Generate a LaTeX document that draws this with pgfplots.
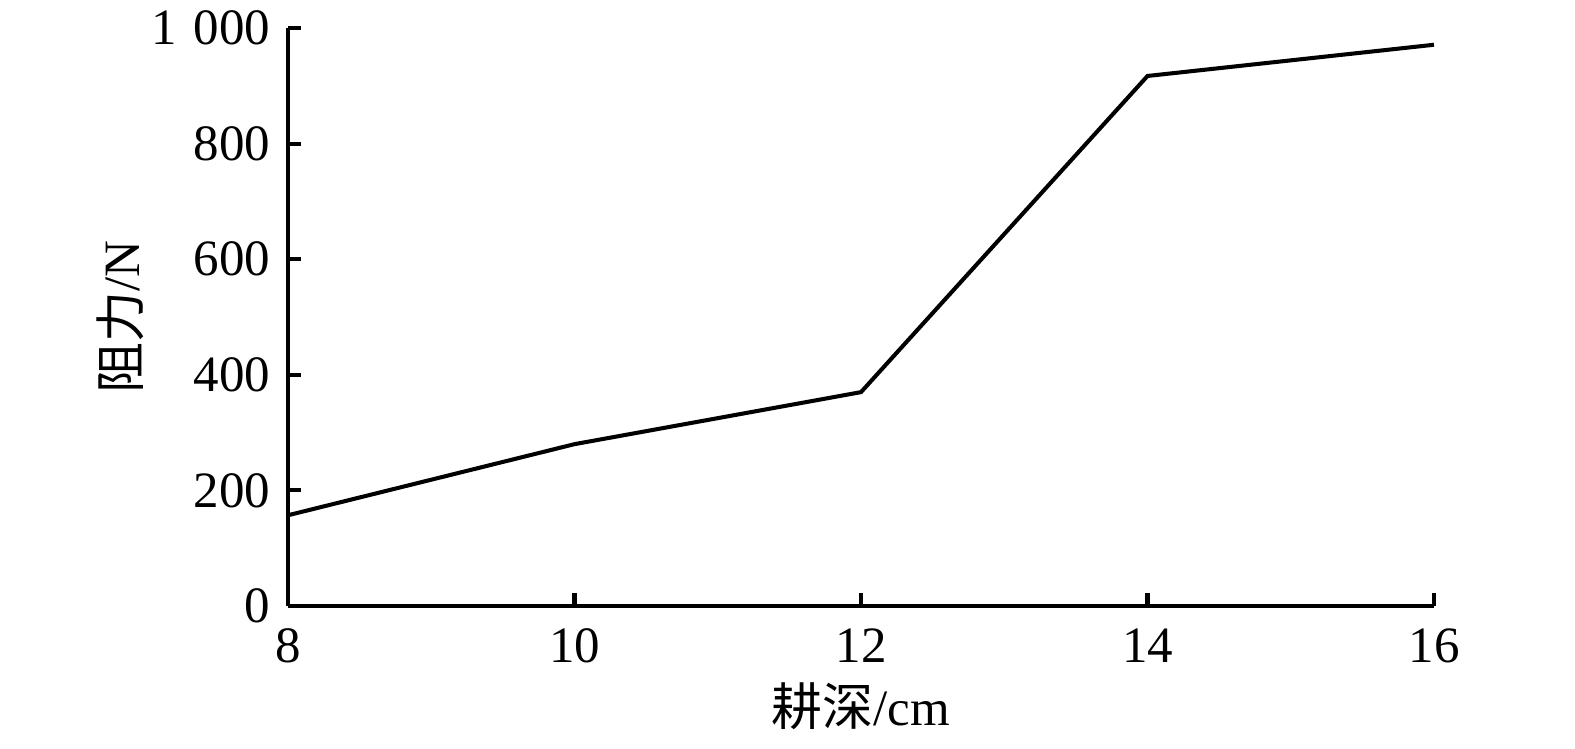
\documentclass[border=0pt]{standalone}
\usepackage{fontspec}
\setmainfont{Liberation Serif}
\newfontfamily\cjk{Noto Sans CJK SC}
\usepackage{pgfplots}
\pgfplotsset{compat=1.18}
\begin{document}
\fontsize{14.5}{17}\selectfont
\begin{tikzpicture}
\begin{axis}[
  scale only axis,
  width=11.46cm, height=5.78cm,
  xmin=8, xmax=16, ymin=0, ymax=1000,
  axis lines=left,
  axis line style={line width=1.15pt, -},
  every tick/.style={black, line width=1.15pt},
  tick align=inside,
  major tick length=0.13cm,
  xtick={8,10,12,14,16},
  ytick={0,200,400,600,800,1000},
  yticklabels={0,200,400,600,800,1\hspace{0.33em}000},
  /pgf/number format/assume math mode=true,
  tick label style={font=\fontsize{14.5}{17}\selectfont},
  label style={font=\fontsize{14.5}{17}\selectfont},
  xticklabel style={yshift=-0.05cm},
  xlabel={{\cjk 耕深}/cm},
  ylabel={{\cjk 阻力}/N},
  xlabel style={yshift=0.15cm},
  ylabel style={yshift=-0.27cm},
  clip=false,
]
\addplot[black, line width=1.15pt] coordinates {
  (8,157) (10,280) (12,370) (14,917) (16,971)
};
\end{axis}
\pgfresetboundingbox
\path ([shift={(-2.88cm,-1.42cm)}]current axis.south west) rectangle ([shift={(1.41cm,0.28cm)}]current axis.north east);
\end{tikzpicture}
\end{document}
